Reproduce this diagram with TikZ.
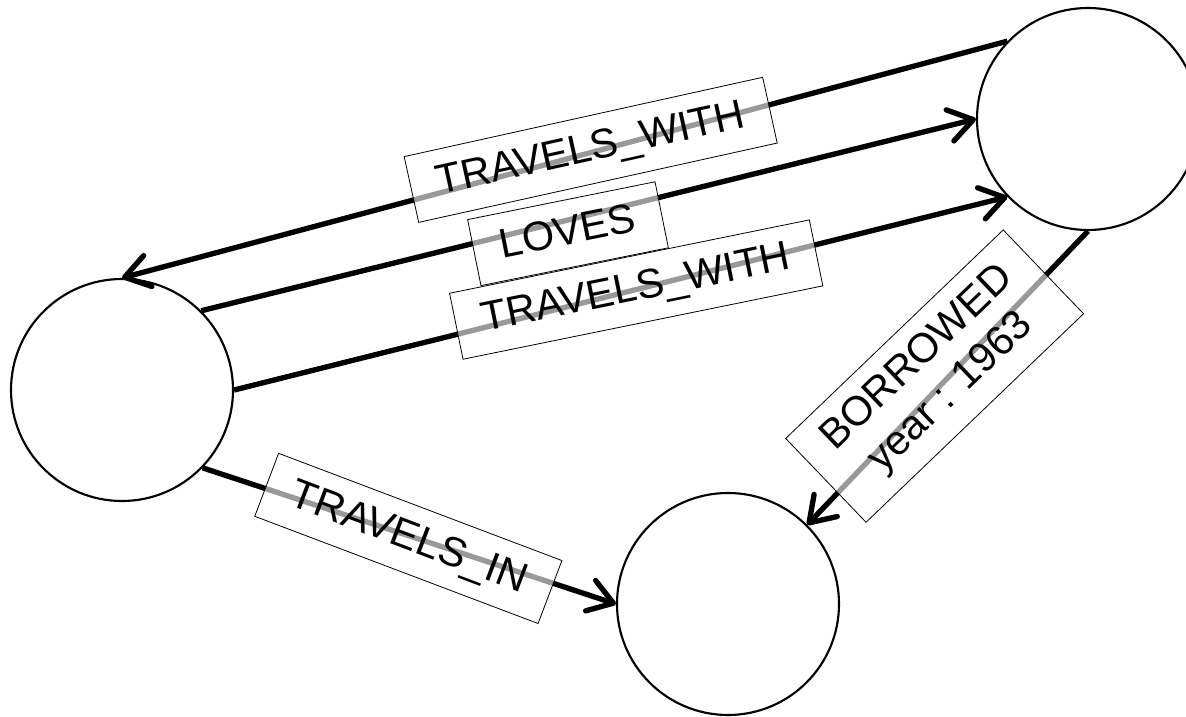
\documentclass[tikz,border=0pt]{standalone}
\usepackage{fontspec}
\setmainfont{Liberation Sans}
\usetikzlibrary{arrows.meta}

\begin{document}
\begin{tikzpicture}[x = 0.75pt, y = -0.75pt,
		person/.style = {circle, draw, line width = 1.6pt, minimum size = 166.5pt, inner sep = 0pt},
		rel/.style = {line width = 4pt, -{Straight Barb[length = 18pt, width = 24pt, round]}},
		tag/.style = {draw, line width = .6pt, fill = white, fill opacity = .6, text opacity = 1, sloped, rotate = -2.5,
			font = \fontsize{31}{36}\selectfont, inner xsep = 20pt, inner ysep = 11.5pt},
		word/.style = {tag, text height = 22pt, text depth = 5.5pt}]
				\useasboundingbox (0,0) rectangle (1186,717);
				\node [person] (companion) at (122,390) {};
				\node [person] (doctor) at (1088,119) {};
				\node [person] (tardis) at (728,604) {};
				\draw [rel] (doctor.136) -- node [word, pos = .47, yshift = 2pt]{TRAVELS\_WITH} (companion.90);
				\draw [rel] (companion.45) -- node [word, pos = .47, yshift = -10pt]{LOVES} (doctor.180);
				\draw [rel] (companion.0) -- node [word, pos = .52]{TRAVELS\_WITH} (doctor.224);
				\draw [rel] (doctor.270) -- node [tag, align = center, pos = .52, yshift = 8pt]{BORROWED\\year : 1963} (tardis.45);
				\draw [rel] (companion.316) -- node [word, pos = .5, yshift = -2pt]{TRAVELS\_IN} (tardis.180);
		\end{tikzpicture}
\end{document}
